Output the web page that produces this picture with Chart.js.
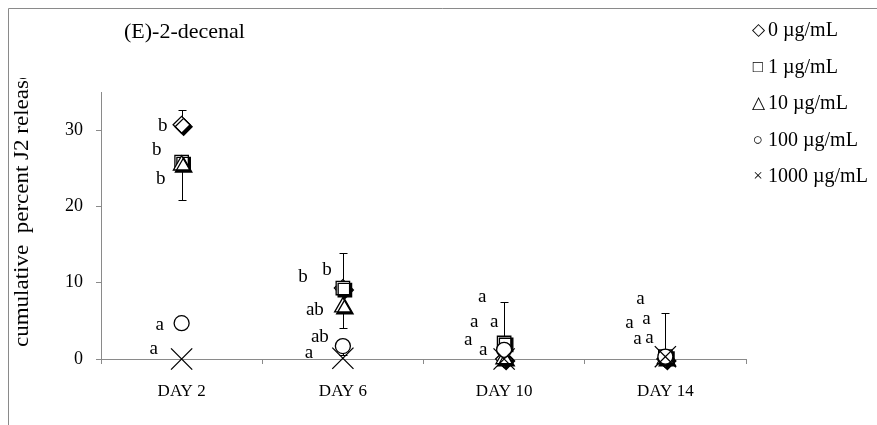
<!DOCTYPE html>
<html>
<head>
<meta charset="utf-8">
<script src="https://cdn.jsdelivr.net/npm/chart.js@4/dist/chart.umd.min.js"></script>
<style>
  html, body { margin: 0; padding: 0; background: #fff; }
  #wrap { width: 877px; height: 425px; }
</style>
</head>
<body>
<div id="wrap"><canvas id="chart" width="877" height="425"></canvas></div>
<script>
// data
const categories = ['DAY 2', 'DAY 6', 'DAY 10', 'DAY 14'];
const seriesNames = ['0 µg/mL', '1 µg/mL', '10 µg/mL', '100 µg/mL', '1000 µg/mL'];
const legendSymbols = ['◇', '□', '△', '○', '×'];

const conc0 = [30.7, 9.3, 0, 0];
const conc1 = [25.8, 9.3, 2.1, 0.3];
const conc10 = [25.4, 6.8, 0, 0];
const conc100 = [4.7, 1.7, 1.2, 0.3];
const conc1000 = [0, 0.1, 0, 0.3];

// error bars (only the parts that show in the figure)
const errUp0 = [1.9, 0, 0, 0];
const errUp1 = [0, 4.6, 5.4, 5.7];
const errDown10 = [4.6, 2.8, 0, 0];
const errDown100 = [0, 1.2, 0, 0];

// significance letters and the height (in %) they sit at
const letters0 = ['b', 'b', 'a', 'a'];
const letters1 = ['b', 'b', 'a', 'a'];
const letters10 = ['b', 'ab', 'a', 'a'];
const letters100 = ['a', 'ab', 'a', 'a'];
const letters1000 = ['a', 'a', 'a', 'a'];
const letterAt0 = [30.6, 10.7, 8.1, 7.9];
const letterAt1 = [27.4, 11.6, 4.8, 5.3];
const letterAt10 = [23.6, 6.4, 4.8, 4.7];
const letterAt100 = [4.5, 2.9, 2.5, 2.6];
const letterAt1000 = [1.3, 0.8, 1.2, 2.7];

const yTicks = [0, 10, 20, 30];

const SERIF = '"Liberation Serif", "Times New Roman", serif';
const AXIS_GREY = '#8a8a8a';

// horizontal nudge of each letter left of its marker (px)
const letterShift = [
    [-19, -40, -22, -25],
    [-25, -16, -10, -19],
    [-21, -28, -30, -36],
    [-22, -23, -36, -28],
    [-28, -34, -21, -16]
];

function makeSet(i, data, style, radius, up, down, letters, letterAt, shadow) {
    return {
        label: seriesNames[i],
        data: data,
        showLine: false,
        clip: false,
        pointStyle: style,
        pointRadius: radius,
        pointHoverRadius: radius,
        pointBackgroundColor: '#fff',
        pointBorderColor: '#000',
        pointBorderWidth: 1.3,
        order: 5 - i,
        errUp: up,
        errDown: down,
        letters: letters,
        letterAt: letterAt,
        shadow: shadow
    };
}

const zeros = [0, 0, 0, 0];

const frame = {
    id: 'frame',
    beforeDraw(chart) {
        const ctx = chart.ctx;
        ctx.save();
        ctx.strokeStyle = AXIS_GREY;
        ctx.lineWidth = 1;
        ctx.beginPath();
        ctx.moveTo(8.5, 425);
        ctx.lineTo(8.5, 8.5);
        ctx.lineTo(877, 8.5);
        ctx.stroke();
        ctx.restore();
    }
};

const errorBars = {
    id: 'errorBars',
    beforeDatasetsDraw(chart) {
        const ctx = chart.ctx;
        const y = chart.scales.y;
        ctx.save();
        ctx.strokeStyle = '#000';
        ctx.lineWidth = 1;
        chart.data.datasets.forEach((ds, di) => {
            const meta = chart.getDatasetMeta(di);
            meta.data.forEach((pt, k) => {
                const x = Math.round(pt.x) + 0.5;
                [[ds.errUp[k], 1], [ds.errDown[k], -1]].forEach(([e, dir]) => {
                    if (!e) return;
                    const yEnd = Math.round(y.getPixelForValue(ds.data[k] + dir * e)) + 0.5;
                    ctx.beginPath();
                    ctx.moveTo(x, pt.y);
                    ctx.lineTo(x, yEnd);
                    ctx.moveTo(x - 4, yEnd);
                    ctx.lineTo(x + 4, yEnd);
                    ctx.stroke();
                });
            });
        });
        ctx.restore();
    }
};

const markerShadow = {
    id: 'markerShadow',
    beforeDatasetDraw(chart, args) {
        if (!chart.data.datasets[args.index].shadow) return;
        const ctx = chart.ctx;
        ctx.save();
        ctx.shadowColor = '#000';
        ctx.shadowOffsetX = 2;
        ctx.shadowOffsetY = 2;
        ctx.shadowBlur = 0;
    },
    afterDatasetDraw(chart, args) {
        if (!chart.data.datasets[args.index].shadow) return;
        chart.ctx.restore();
    }
};

const sigLetters = {
    id: 'sigLetters',
    afterDatasetsDraw(chart) {
        const ctx = chart.ctx;
        const y = chart.scales.y;
        ctx.save();
        ctx.font = '19px ' + SERIF;
        ctx.fillStyle = '#000';
        ctx.textAlign = 'center';
        ctx.textBaseline = 'middle';
        chart.data.datasets.forEach((ds, di) => {
            const meta = chart.getDatasetMeta(di);
            meta.data.forEach((pt, k) => {
                ctx.fillText(ds.letters[k], pt.x + letterShift[di][k], y.getPixelForValue(ds.letterAt[k]));
            });
        });
        ctx.restore();
    }
};

const texts = {
    id: 'texts',
    afterDraw(chart) {
        const ctx = chart.ctx;
        ctx.save();
        ctx.fillStyle = '#000';

        // chart title
        ctx.font = '22px ' + SERIF;
        ctx.textAlign = 'left';
        ctx.textBaseline = 'middle';
        ctx.fillText('(E)-2-decenal', 124, 32);

        // y axis title, stretched and cut off at the top like the original
        ctx.save();
        ctx.beginPath();
        ctx.rect(0, 78, 60, 347);
        ctx.clip();
        ctx.translate(28, 347);
        ctx.rotate(-Math.PI / 2);
        ctx.scale(1.15, 1);
        ctx.font = '20px ' + SERIF;
        ctx.textAlign = 'left';
        ctx.textBaseline = 'alphabetic';
        ctx.fillText('cumulative  percent J2 release', 0, 0);
        ctx.restore();

        // legend
        ctx.textBaseline = 'middle';
        seriesNames.forEach((name, i) => {
            const yy = 31 + i * 36.5;
            ctx.font = '17px ' + SERIF;
            ctx.textAlign = 'center';
            ctx.fillText(legendSymbols[i], 758, yy);
            ctx.font = '20px ' + SERIF;
            ctx.textAlign = 'left';
            ctx.fillText(name, 768, yy);
        });
        ctx.restore();
    }
};

new Chart(document.getElementById('chart'), {
    type: 'line',
    data: {
        labels: categories,
        datasets: [
            makeSet(0, conc0, 'rectRot', 8.5, errUp0, zeros, letters0, letterAt0, true),
            makeSet(1, conc1, 'rect', 9.5, errUp1, zeros, letters1, letterAt1, true),
            makeSet(2, conc10, 'triangle', 9.5, zeros, errDown10, letters10, letterAt10, true),
            makeSet(3, conc100, 'circle', 7.5, zeros, errDown100, letters100, letterAt100, false),
            makeSet(4, conc1000, 'crossRot', 15, zeros, zeros, letters1000, letterAt1000, false)
        ]
    },
    options: {
        responsive: false,
        animation: false,
        events: [],
        layout: { padding: { left: 0, top: 92, right: 131, bottom: 0 } },
        plugins: {
            legend: { display: false },
            tooltip: { enabled: false }
        },
        scales: {
            x: {
                type: 'category',
                offset: true,
                afterFit(scale) { scale.height = 66; },
                grid: {
                    offset: true,
                    drawOnChartArea: false,
                    drawTicks: true,
                    tickLength: 5,
                    color: AXIS_GREY
                },
                border: { color: AXIS_GREY },
                ticks: {
                    color: '#000',
                    padding: 17,
                    font: { family: SERIF, size: 17 }
                }
            },
            y: {
                min: 0,
                max: 35,
                afterFit(scale) { scale.width = 101; },
                afterBuildTicks(scale) {
                    scale.ticks = yTicks.map(v => ({ value: v }));
                },
                grid: {
                    drawOnChartArea: false,
                    drawTicks: true,
                    tickLength: 5,
                    color: AXIS_GREY
                },
                border: { color: AXIS_GREY },
                ticks: {
                    color: '#000',
                    padding: 13,
                    font: { family: SERIF, size: 18 }
                }
            }
        }
    },
    plugins: [frame, errorBars, markerShadow, sigLetters, texts]
});
</script>
</body>
</html>
